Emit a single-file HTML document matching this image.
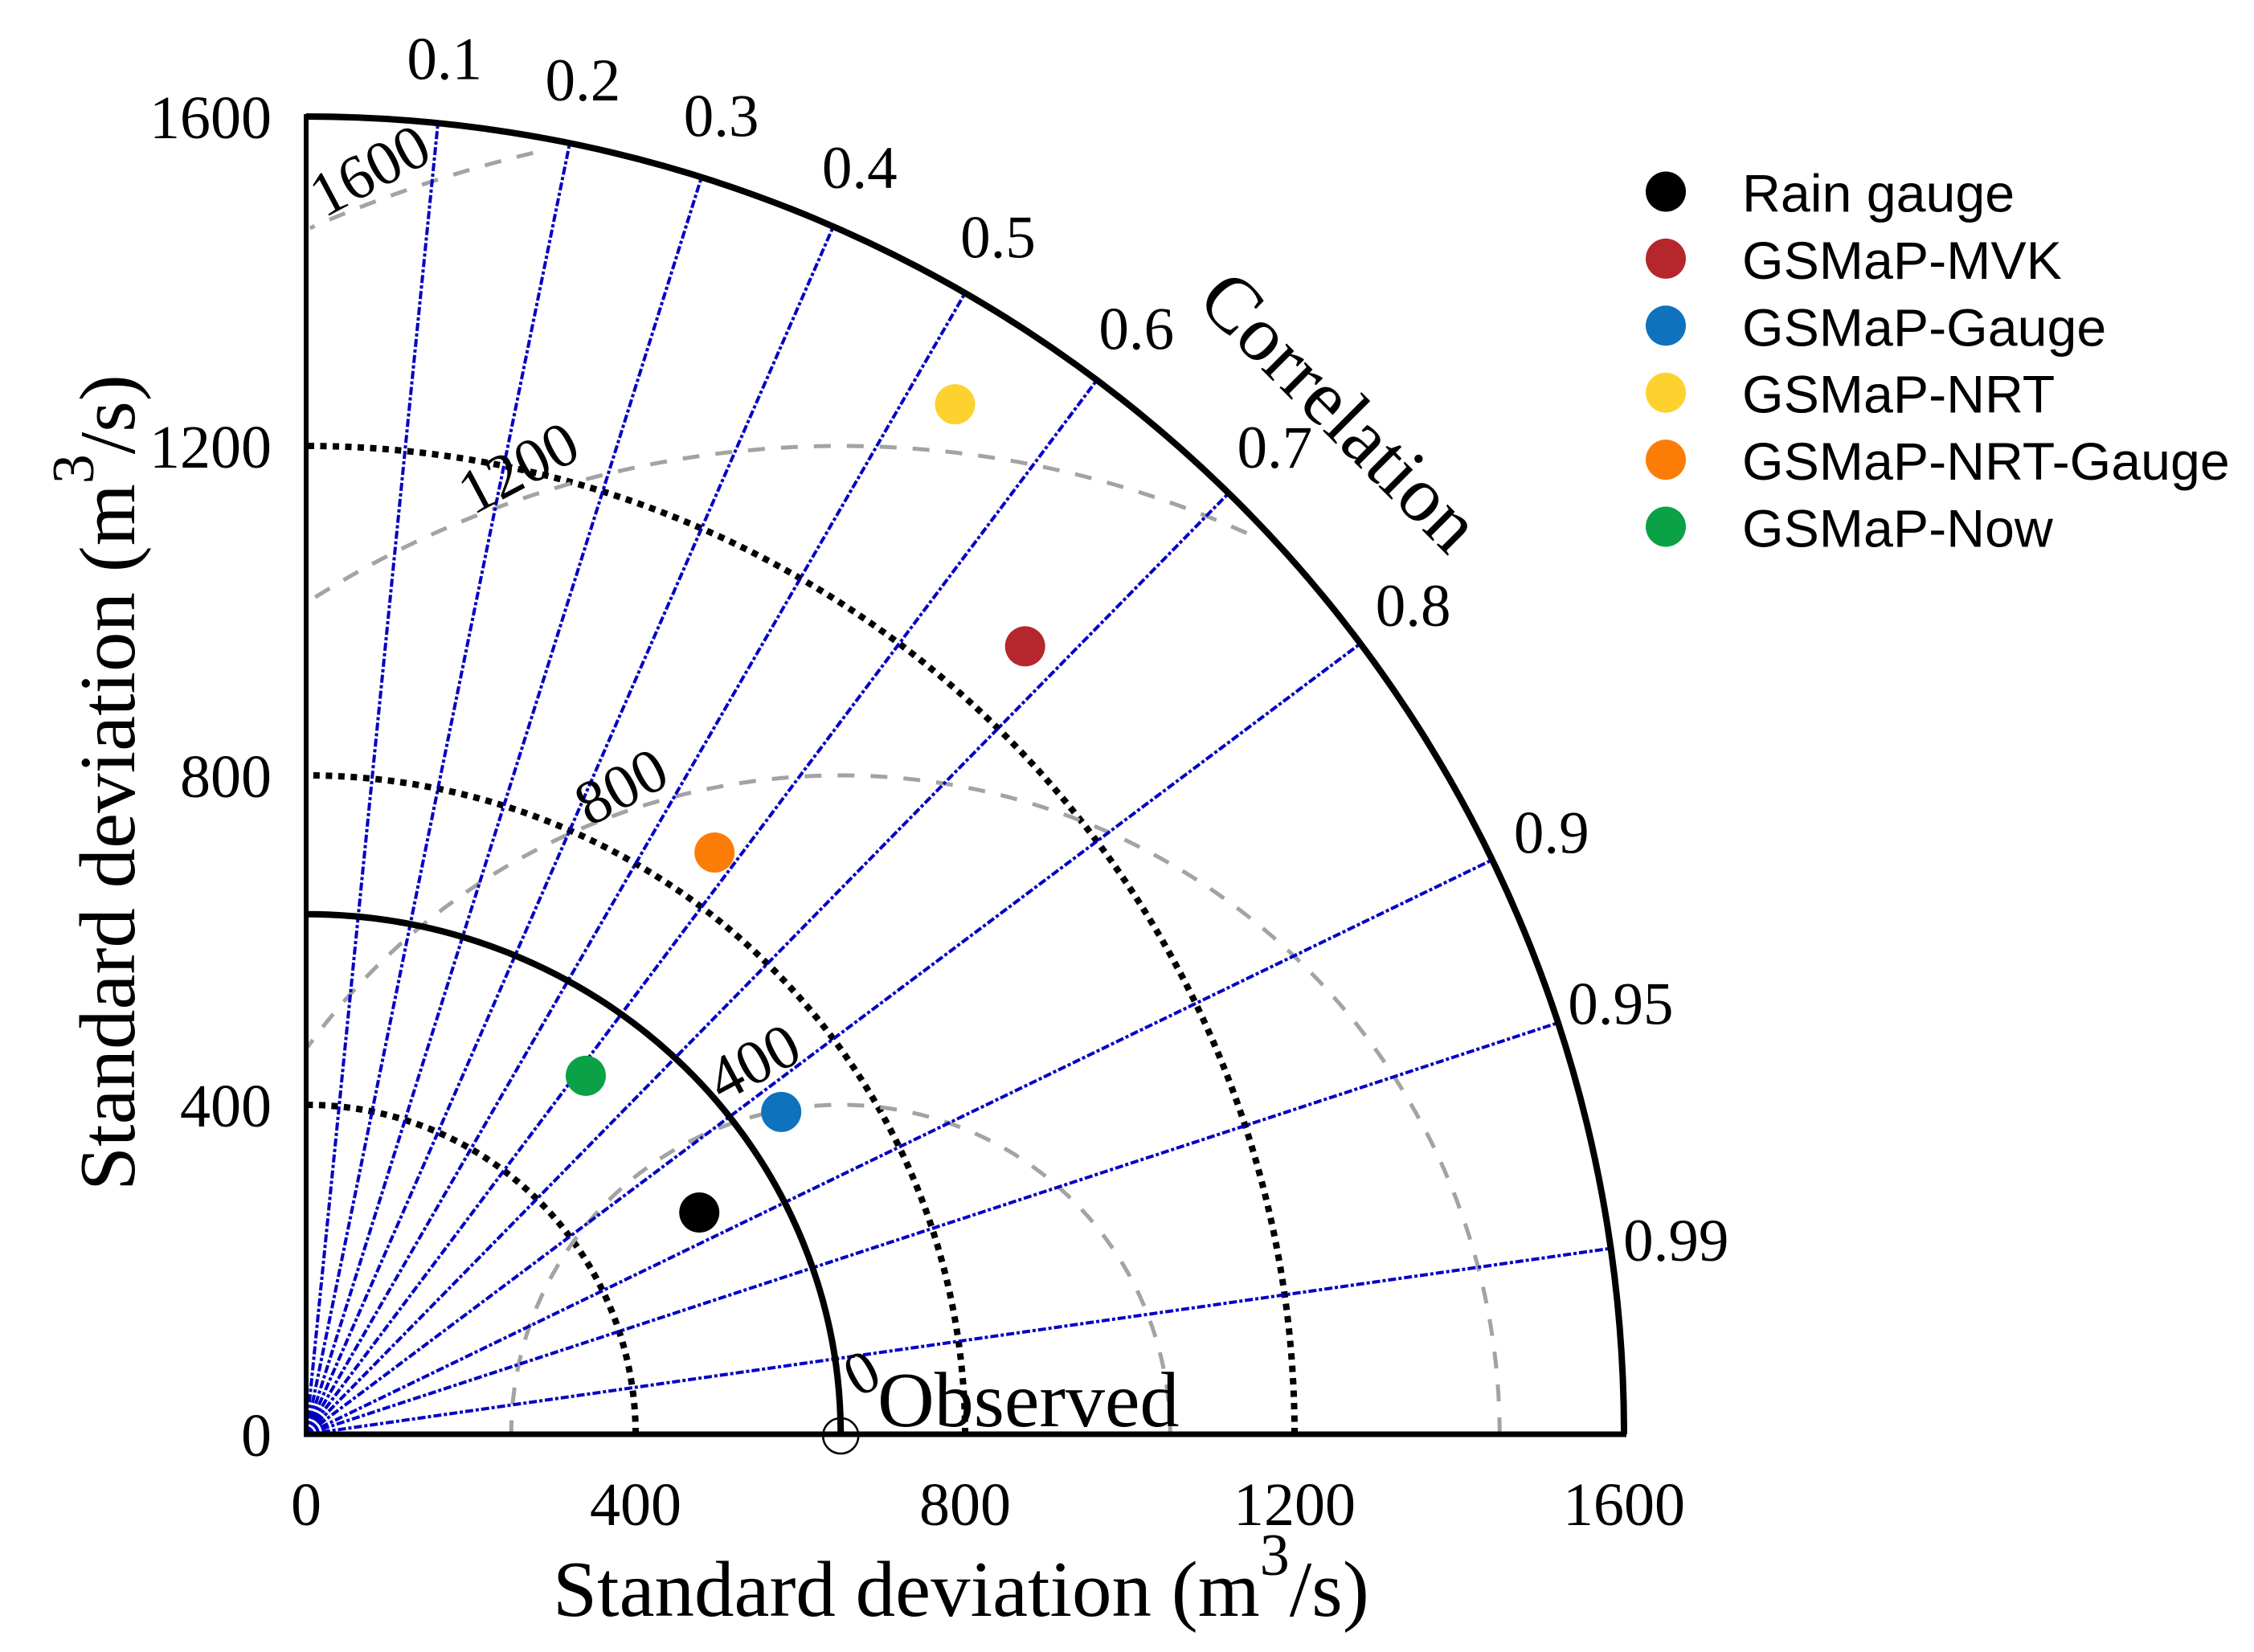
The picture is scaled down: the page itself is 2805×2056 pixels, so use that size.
<!DOCTYPE html>
<html lang="en">
<head>
<meta charset="utf-8">
<title>Taylor diagram</title>
<style>
html,body{margin:0;padding:0;background:#fff;width:2805px;height:2056px;overflow:hidden}
svg{display:block}
.serif{font-family:"Liberation Serif",serif;fill:#000}
.sans{font-family:"Liberation Sans",sans-serif;fill:#000}
</style>
</head>
<body>
<svg id="chart" xmlns="http://www.w3.org/2000/svg" width="2805" height="2056" viewBox="0 0 2805 2056">
<rect width="2805" height="2056" fill="#fff"/>
</svg>
<script>
const sdTicks = [0, 400, 800, 1200, 1600];
const sdDottedArcs = [400, 800, 1200];
const corrTicks = [0.1, 0.2, 0.3, 0.4, 0.5, 0.6, 0.7, 0.8, 0.9, 0.95, 0.99];
const rmsLevels = [400, 800, 1200, 1600];
const rmsLabels = ['400', '800', '1200', '1600'];
const observedStd = 649;
const seriesNames = ['Rain gauge', 'GSMaP-MVK', 'GSMaP-Gauge', 'GSMaP-NRT', 'GSMaP-NRT-Gauge', 'GSMaP-Now'];
const seriesStd = [548, 1295, 697, 1478, 863, 552];
const seriesCorr = [0.871, 0.674, 0.8275, 0.533, 0.5745, 0.615];
const seriesColors = ['#000000', '#b5272c', '#0e72bd', '#fdd22e', '#fb7d07', '#0ba146'];

const svg = document.getElementById('chart');
const NS = 'http://www.w3.org/2000/svg';
const ORIGIN_X = 381, ORIGIN_Y = 1785, PX_PER_UNIT = 1.025, MAX_SD = 1600;
const OBS_ARC_Y_RATIO = 0.973;
const xScale = v => ORIGIN_X + v * PX_PER_UNIT;
const yScale = v => ORIGIN_Y - v * PX_PER_UNIT;
const polarX = (sd, r) => xScale(sd * r);
const polarY = (sd, r) => yScale(sd * Math.sqrt(1 - r * r));

function make(tag, attrs, text) {
  const el = document.createElementNS(NS, tag);
  for (const k in attrs) el.setAttribute(k, attrs[k]);
  if (text !== undefined) el.textContent = text;
  svg.appendChild(el);
  return el;
}
function quarterArc(rx, ry) {
  return 'M' + (ORIGIN_X + rx) + ' ' + ORIGIN_Y + ' A' + rx + ' ' + ry + ' 0 0 0 ' + ORIGIN_X + ' ' + (ORIGIN_Y - ry);
}
function rmsPath(level) {
  const pts = [];
  for (let a = 0; a <= 180; a += 0.25) {
    const t = a * Math.PI / 180;
    const xv = observedStd + level * Math.cos(t);
    const yv = level * Math.sin(t);
    if (xv >= 0 && Math.hypot(xv, yv) <= MAX_SD - 18) {
      pts.push(xScale(xv).toFixed(1) + ' ' + yScale(yv).toFixed(1));
    }
  }
  return 'M' + pts.join(' L');
}

/* standard deviation dotted arcs */
sdDottedArcs.forEach(v => {
  const r = v * PX_PER_UNIT;
  const el = make('path', {d: quarterArc(r, r), fill: 'none', stroke: '#000', 'stroke-width': 8, 'stroke-dasharray': '8 7.5'});
  
  
});

/* RMS gray dashed arcs */
rmsLevels.forEach(v => {
  const el = make('path', {d: rmsPath(v), fill: 'none', stroke: '#a3a3a3', 'stroke-width': 5, 'stroke-dasharray': '21 20'});
  
  
});

/* correlation rays */
corrTicks.forEach(c => {
  const el = make('line', {x1: ORIGIN_X, y1: ORIGIN_Y, x2: polarX(MAX_SD, c), y2: polarY(MAX_SD, c), stroke: '#0000c4', 'stroke-width': 4, 'stroke-dasharray': '10 3 4 3'});
  
  
});

/* observed reference arc */
const obsRx = observedStd * PX_PER_UNIT;
const obsArc = make('path', {d: quarterArc(obsRx, obsRx * OBS_ARC_Y_RATIO), fill: 'none', stroke: '#000', 'stroke-width': 8});



/* outer arc + axes */
const outerR = MAX_SD * PX_PER_UNIT;
const outerArc = make('path', {d: quarterArc(outerR, outerR), fill: 'none', stroke: '#000', 'stroke-width': 8});


const yAxis = make('line', {x1: xScale(0), y1: yScale(MAX_SD) - 3, x2: xScale(0), y2: yScale(0) + 3, stroke: '#000', 'stroke-width': 6});


const xAxis = make('line', {x1: xScale(0) - 3, y1: yScale(0), x2: xScale(MAX_SD) + 3, y2: yScale(0), stroke: '#000', 'stroke-width': 7});



/* observed point */
const obsPoint = make('circle', {cx: xScale(observedStd), cy: yScale(0) + 2, r: 22, fill: 'none', stroke: '#000', 'stroke-width': 2.5});



/* series markers */
seriesNames.forEach((n, i) => {
  const el = make('circle', {cx: polarX(seriesStd[i], seriesCorr[i]), cy: polarY(seriesStd[i], seriesCorr[i]), r: 25, fill: seriesColors[i]});
  
  
});

/* tick labels */
sdTicks.forEach(v => {
  const tx = make('text', {class: 'serif', x: xScale(v), y: 1898, 'font-size': 76, 'text-anchor': 'middle'}, String(v));
  
  
  const ty = make('text', {class: 'serif', x: 338, y: yScale(v) + 27, 'font-size': 76, 'text-anchor': 'end'}, String(v));
  
  
});
const CORR_LABEL_SD = MAX_SD * 1.05;
corrTicks.forEach(c => {
  const el = make('text', {class: 'serif', x: polarX(CORR_LABEL_SD, c), y: polarY(CORR_LABEL_SD, c) + 27, 'font-size': 75, 'text-anchor': 'middle'}, String(c));
  
  
});

/* RMS labels */
const rmsLabelCenters = {'400': [938, 1322], '800': [773, 979], '1200': [645, 582], '1600': [460, 212]};
rmsLabels.forEach(t => {
  const p = rmsLabelCenters[t];
  const el = make('text', {class: 'serif', 'font-size': 78, 'text-anchor': 'middle', transform: 'translate(' + p[0] + ' ' + p[1] + ') rotate(-28) translate(0 26)'}, t);
  
  
});
const rmsZero = make('text', {class: 'serif', 'font-size': 76, 'text-anchor': 'middle', transform: 'translate(1072 1708) rotate(-28) translate(0 26)'}, '0');



/* titles */
function axisTitle(transform, name) {
  const el = make('text', {class: 'serif', 'font-size': 99, transform: transform});
  
  
  const a = document.createElementNS(NS, 'tspan');
  a.textContent = 'Standard deviation (m';
  el.appendChild(a);
  const b = document.createElementNS(NS, 'tspan');
  b.setAttribute('font-size', '74');
  b.setAttribute('dy', '-51');
  b.textContent = '3';
  el.appendChild(b);
  const c = document.createElementNS(NS, 'tspan');
  c.setAttribute('dy', '51');
  c.textContent = '/s)';
  el.appendChild(c);
  return el;
}
axisTitle('translate(688 2011)', 'x-axis-title');
axisTitle('translate(167 1482) rotate(-90)', 'y-axis-title');

const corrTitle = make('text', {class: 'serif', 'font-size': 98, transform: 'translate(1487 377) rotate(45)'}, 'Correlation');


const obsLabel = make('text', {class: 'serif', x: 1092, y: 1775, 'font-size': 98}, 'Observed');



/* legend */
const LEGEND_TOP = 238.5, LEGEND_STEP = 83.4;
seriesNames.forEach((n, i) => {
  const y = LEGEND_TOP + i * LEGEND_STEP;
  const m = make('circle', {cx: 2073, cy: y, r: 25, fill: seriesColors[i]});
  
  
  const t = make('text', {class: 'sans', x: 2168, y: y + 25, 'font-size': 66.3}, n);
  
  
});
</script>
</body>
</html>
